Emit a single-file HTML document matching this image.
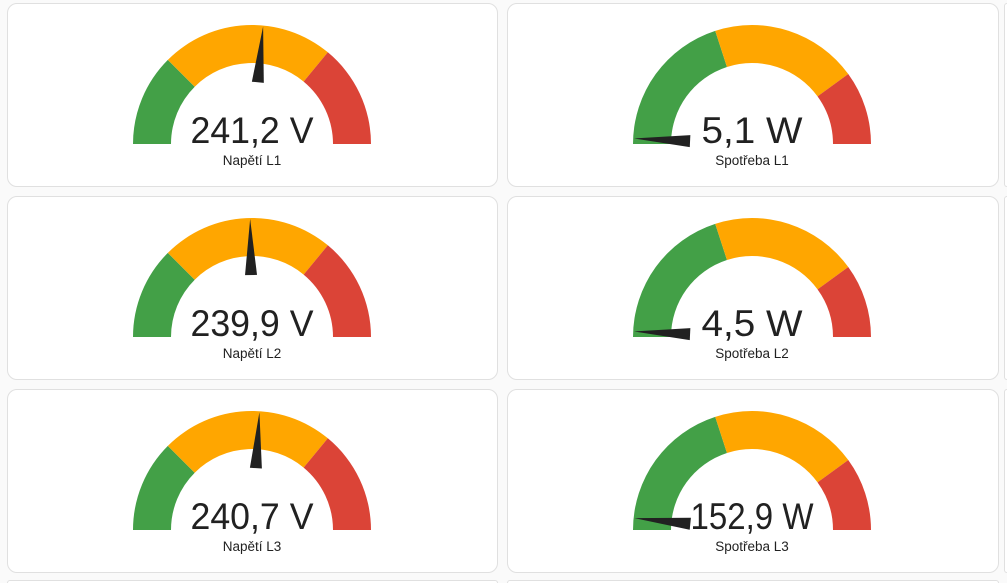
<!DOCTYPE html>
<html><head><meta charset="utf-8"><style>
html,body{margin:0;padding:0;background:#fafafa;width:1007px;height:583px;overflow:hidden;font-family:"Liberation Sans",sans-serif}
#wrap{position:absolute;left:0;top:0;width:1007px;height:583px;overflow:hidden}
.card{position:absolute;background:#fff;border:1px solid #e0e0e0;border-radius:10px;box-sizing:border-box}
.bot{position:absolute;background:#fff;border:1px solid #e0e0e0;border-bottom:none;border-radius:6px 6px 0 0;box-sizing:border-box;height:3px}
svg{position:absolute;left:0;top:0}
</style></head><body><div id="wrap">
<div class="card" style="left:7px;top:3px;width:491px;height:184px"></div>
<div class="card" style="left:507px;top:3px;width:492px;height:184px"></div>
<div class="card" style="left:7px;top:196px;width:491px;height:184px"></div>
<div class="card" style="left:507px;top:196px;width:492px;height:184px"></div>
<div class="card" style="left:7px;top:389px;width:491px;height:184px"></div>
<div class="card" style="left:507px;top:389px;width:492px;height:184px"></div>
<div class="bot" style="left:7px;top:580px;width:491px"></div>
<div class="bot" style="left:507px;top:580px;width:492px"></div>
<div class="card" style="left:1004px;top:3px;width:3px;height:184px;border-radius:10px 0 0 10px;border-right:none"></div>
<div class="card" style="left:1004px;top:196px;width:3px;height:184px;border-radius:10px 0 0 10px;border-right:none"></div>
<div class="card" style="left:1004px;top:389px;width:3px;height:184px;border-radius:10px 0 0 10px;border-right:none"></div>
<svg id="s" width="1007" height="583"></svg>
</div>
<script>
var s=document.getElementById('s'),h='';
function P(cx,cy,r,f){var a=Math.PI*(1-f);return [cx+r*Math.cos(a),cy-r*Math.sin(a)];}
function seg(cx,cy,f0,f1,c){var R=119,r=81,a=P(cx,cy,R,f0),b=P(cx,cy,R,f1),d=P(cx,cy,r,f1),e=P(cx,cy,r,f0);
h+='<path fill="'+c+'" d="M'+a+' A'+R+' '+R+' 0 0 1 '+b+' L'+d+' A'+r+' '+r+' 0 0 0 '+e+'Z"/>';}
function g(cx,cy,b1,b2,nf,val,tl,lab){seg(cx,cy,0,b1,'#43a047');seg(cx,cy,b1,b2,'#ffa600');seg(cx,cy,b2,1,'#db4437');
var ang=Math.PI*(1-nf),ux=Math.cos(ang),uy=-Math.sin(ang),px=-uy,py=ux;
var t=[cx+118*ux,cy+118*uy],b=[cx+62*ux,cy+62*uy];
h+='<polygon fill="#212121" points="'+t+' '+(b[0]+6*px)+','+(b[1]+6*py)+' '+(b[0]-6*px)+','+(b[1]-6*py)+'"/>';
h+='<text x="'+cx+'" y="'+(cy-1)+'" font-size="37" fill="#212121" text-anchor="middle" textLength="'+tl+'" lengthAdjust="spacingAndGlyphs">'+val+'</text>';
h+='<text x="'+cx+'" y="'+(cy+21)+'" font-size="13.5" fill="#212121" text-anchor="middle">'+lab+'</text>';}
g(252,144,0.25,0.72,0.53,'241,2 V',123,'Napětí L1');
g(252,337,0.25,0.72,0.495,'239,9 V',123,'Napětí L2');
g(252,530,0.25,0.72,0.52,'240,7 V',123,'Napětí L3');
g(752,144,0.4,0.8,0.015,'5,1 W',101,'Spotřeba L1');
g(752,337,0.4,0.8,0.015,'4,5 W',101,'Spotřeba L2');
g(752,530,0.4,0.8,0.032,'152,9 W',123,'Spotřeba L3');
s.innerHTML=h;
</script>
</body></html>
